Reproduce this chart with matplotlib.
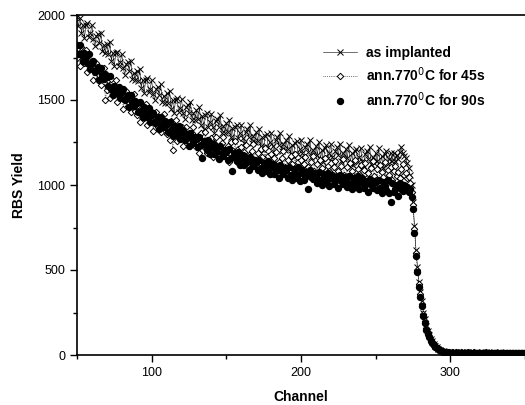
import numpy as np
import matplotlib
matplotlib.use("Agg")
import matplotlib.pyplot as plt
from matplotlib import ticker

plt.rcParams['font.family'] = ['Liberation Sans', 'DejaVu Sans']

# channels 50..349
channel = np.arange(50, 350)

as_implanted = [
    1990, 1933, 1985, 1894, 1942, 1865, 1943, 1951, 1869, 1892,
    1940, 1856, 1817, 1878, 1889, 1835, 1896, 1787, 1823, 1779,
    1830, 1772, 1839, 1731, 1778, 1700, 1777, 1784, 1701, 1723,
    1770, 1687, 1649, 1711, 1723, 1670, 1732, 1624, 1661, 1618,
    1670, 1612, 1680, 1572, 1620, 1542, 1620, 1627, 1545, 1567,
    1615, 1534, 1499, 1563, 1578, 1527, 1592, 1486, 1526, 1485,
    1540, 1484, 1554, 1448, 1498, 1422, 1502, 1511, 1431, 1455,
    1505, 1425, 1391, 1456, 1472, 1422, 1488, 1383, 1424, 1384,
    1440, 1386, 1457, 1353, 1404, 1330, 1411, 1422, 1343, 1369,
    1420, 1341, 1308, 1374, 1391, 1342, 1409, 1305, 1347, 1308,
    1365, 1312, 1384, 1281, 1333, 1260, 1342, 1354, 1276, 1303,
    1355, 1277, 1245, 1312, 1330, 1282, 1350, 1247, 1290, 1252,
    1310, 1257, 1330, 1227, 1280, 1207, 1290, 1302, 1225, 1252,
    1305, 1228, 1196, 1264, 1282, 1235, 1303, 1201, 1244, 1207,
    1265, 1213, 1286, 1184, 1237, 1165, 1248, 1261, 1184, 1212,
    1265, 1188, 1157, 1225, 1244, 1197, 1266, 1164, 1208, 1171,
    1230, 1179, 1253, 1152, 1206, 1135, 1219, 1233, 1157, 1186,
    1240, 1164, 1133, 1202, 1221, 1175, 1244, 1143, 1187, 1151,
    1210, 1159, 1233, 1132, 1186, 1115, 1199, 1213, 1137, 1166,
    1220, 1144, 1113, 1182, 1201, 1155, 1224, 1123, 1167, 1131,
    1190, 1140, 1215, 1115, 1170, 1100, 1185, 1200, 1125, 1155,
    1190, 1140, 1187, 1139, 1176, 1155, 1195, 1225, 1190, 1170,
    1160, 1130, 1100, 1060, 1000, 900, 760, 620, 520, 430,
    370, 320, 250, 210, 170, 140, 120, 95, 80, 65,
    55, 45, 36, 30, 25, 22, 20, 18, 17, 16,
    15, 16, 14, 15, 17, 14, 15, 16, 14, 15,
    14, 15, 16, 14, 15, 13, 14, 15, 14, 13,
    14, 15, 13, 14, 15, 13, 14, 13, 14, 15,
    13, 14, 13, 15, 14, 13, 14, 13, 12, 14,
    13, 14, 12, 13, 14, 12, 13, 14, 12, 13,
]

ann_45s = [
    1750, 1805, 1700, 1810, 1755, 1715, 1795, 1665, 1730, 1690,
    1730, 1616, 1687, 1718, 1624, 1645, 1586, 1657, 1688, 1500,
    1560, 1617, 1514, 1626, 1573, 1535, 1617, 1489, 1556, 1518,
    1560, 1448, 1521, 1554, 1462, 1485, 1428, 1501, 1534, 1437,
    1410, 1469, 1368, 1482, 1431, 1395, 1479, 1353, 1422, 1386,
    1430, 1320, 1395, 1430, 1340, 1365, 1310, 1385, 1420, 1325,
    1300, 1361, 1262, 1378, 1205, 1295, 1381, 1257, 1328, 1294,
    1340, 1231, 1308, 1344, 1256, 1282, 1229, 1305, 1342, 1248,
    1225, 1287, 1189, 1306, 1258, 1225, 1312, 1189, 1261, 1228,
    1275, 1167, 1245, 1282, 1195, 1222, 1170, 1247, 1285, 1192,
    1170, 1232, 1135, 1252, 1205, 1172, 1260, 1137, 1210, 1177,
    1225, 1118, 1196, 1234, 1147, 1175, 1123, 1201, 1239, 1147,
    1125, 1188, 1091, 1209, 1162, 1130, 1218, 1096, 1169, 1137,
    1185, 1078, 1156, 1194, 1107, 1135, 1083, 1161, 1199, 1107,
    1085, 1148, 1052, 1170, 1124, 1092, 1181, 1059, 1133, 1101,
    1150, 1044, 1123, 1162, 1076, 1105, 1054, 1133, 1172, 1081,
    1060, 1124, 1028, 1147, 1101, 1070, 1159, 1038, 1112, 1081,
    1130, 1024, 1103, 1142, 1056, 1085, 1034, 1113, 1152, 1061,
    1040, 1105, 1010, 1130, 1085, 1055, 1145, 1025, 1096, 1066,
    1115, 1009, 1088, 1127, 1043, 1070, 1020, 1098, 1141, 1051,
    1030, 1095, 1000, 1120, 1075, 1045, 1135, 1015, 1090, 1060,
    1103, 1030, 1085, 1113, 1054, 1075, 1040, 1096, 1124, 1061,
    1070, 1040, 1050, 1010, 960, 880, 740, 600, 500, 420,
    360, 300, 240, 200, 160, 135, 110, 90, 75, 62,
    50, 42, 34, 28, 24, 21, 19, 17, 16, 15,
    14, 15, 13, 14, 15, 14, 13, 15, 14, 13,
    14, 13, 15, 14, 13, 14, 15, 13, 14, 12,
    13, 14, 12, 13, 15, 13, 12, 14, 13, 12,
    13, 12, 14, 13, 12, 13, 14, 12, 13, 12,
    12, 13, 12, 14, 12, 13, 12, 13, 12, 13,
]

ann_90s = [
    1825, 1770, 1825, 1770, 1730, 1775, 1755, 1720, 1770, 1685,
    1720, 1731, 1667, 1678, 1694, 1620, 1691, 1647, 1623, 1654,
    1635, 1582, 1639, 1566, 1528, 1585, 1572, 1539, 1576, 1513,
    1550, 1562, 1500, 1512, 1530, 1457, 1530, 1487, 1465, 1497,
    1480, 1428, 1487, 1435, 1399, 1457, 1431, 1399, 1453, 1371,
    1410, 1424, 1364, 1378, 1398, 1327, 1402, 1361, 1341, 1375,
    1360, 1310, 1371, 1321, 1287, 1347, 1323, 1293, 1349, 1269,
    1310, 1325, 1266, 1281, 1302, 1232, 1308, 1268, 1249, 1284,
    1270, 1221, 1282, 1233, 1160, 1260, 1236, 1207, 1263, 1184,
    1225, 1241, 1183, 1199, 1221, 1152, 1229, 1190, 1172, 1208,
    1195, 1147, 1209, 1161, 1080, 1190, 1167, 1139, 1196, 1118,
    1160, 1177, 1119, 1136, 1158, 1090, 1167, 1129, 1111, 1148,
    1135, 1087, 1150, 1102, 1070, 1132, 1110, 1082, 1140, 1062,
    1105, 1123, 1066, 1084, 1107, 1040, 1118, 1081, 1064, 1102,
    1090, 1043, 1107, 1060, 1029, 1092, 1071, 1044, 1103, 1026,
    1070, 1088, 1032, 1050, 1074, 975, 1086, 1049, 1033, 1071,
    1060, 1013, 1077, 1030, 999, 1062, 1041, 1014, 1073, 996,
    1040, 1059, 1003, 1022, 1046, 980, 1059, 1023, 1007, 1046,
    1035, 989, 1053, 1007, 976, 1040, 1019, 994, 1052, 976,
    1020, 1039, 983, 1003, 1026, 960, 1034, 998, 983, 1026,
    1015, 968, 1032, 985, 954, 1017, 996, 969, 1028, 951,
    900, 1014, 958, 977, 1001, 935, 1014, 978, 962, 1001,
    975, 990, 960, 975, 930, 860, 720, 580, 490, 400,
    340, 290, 230, 190, 150, 125, 105, 85, 70, 58,
    48, 40, 33, 27, 23, 20, 18, 16, 15, 14,
    13, 14, 12, 13, 14, 12, 13, 12, 14, 13,
    12, 13, 14, 12, 13, 12, 11, 13, 12, 13,
    12, 11, 13, 12, 12, 13, 11, 12, 13, 11,
    12, 13, 11, 12, 11, 12, 13, 11, 12, 11,
    11, 12, 11, 12, 13, 11, 12, 11, 12, 11,
]

labels = ["as implanted", "ann.770$^0$C for 45s", "ann.770$^0$C for 90s"]

fig = plt.figure(figsize=(5.25, 4.05), dpi=100)
ax = fig.add_axes([77 / 525, 1 - 355 / 405, 1 - 77 / 525, 340 / 405])

ax.plot(channel, as_implanted, color="black", linewidth=0.4, linestyle="-",
        marker="x", markersize=4, markeredgewidth=0.7, label=labels[0])
ax.plot(channel, ann_45s, color="black", linewidth=0.5, linestyle=":",
        marker="D", markersize=3.3, markerfacecolor="white", markeredgewidth=0.7,
        label=labels[1])
ax.plot(channel, ann_90s, color="black", linestyle="None",
        marker="o", markersize=4.3, label=labels[2])

ax.set_xlim(50, 350)
ax.set_ylim(0, 2000)
ax.xaxis.set_major_locator(ticker.MultipleLocator(100))
ax.xaxis.set_minor_locator(ticker.MultipleLocator(50))
ax.yaxis.set_major_locator(ticker.MultipleLocator(500))
ax.yaxis.set_minor_locator(ticker.MultipleLocator(250))
ax.tick_params(which="both", direction="out", width=1, labelsize=9)
ax.tick_params(which="major", length=5)
ax.tick_params(which="minor", length=3)
ax.spines["right"].set_visible(False)
for s in ["left", "bottom", "top"]:
    ax.spines[s].set_linewidth(1.2)

ax.set_xlabel("Channel", fontsize=10, fontweight="bold", labelpad=8)
ax.set_ylabel("RBS Yield", fontsize=10, fontweight="bold", labelpad=8)

ax.legend(loc="upper left", bbox_to_anchor=(310 / 525, 1 - 33 / 405),
          bbox_transform=fig.transFigure, frameon=False, numpoints=1,
          handlelength=2.5, handletextpad=0.6, labelspacing=0.45,
          prop={"size": 10, "weight": "bold"})

fig.savefig("out.png", dpi=100)
